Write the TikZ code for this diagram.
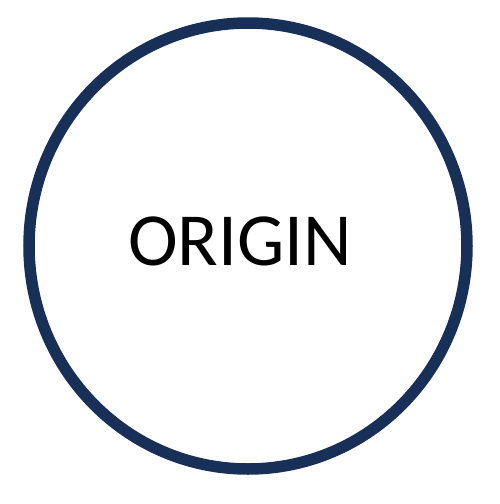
\documentclass[tikz,border=0pt]{standalone}
\usepackage{fontspec}
\setmainfont{Carlito}
\definecolor{ringblue}{HTML}{183058}
\begin{document}
\begin{tikzpicture}[x=1pt,y=-1pt,
  label/.style={font=\fontsize{75}{82}\selectfont,text=black,inner sep=0pt,anchor=center}]
\useasboundingbox (0,0) rectangle (499,504);
\draw[draw=ringblue,line width=11.5pt,fill=white] (248,246) ellipse [x radius=219, y radius=223];
\node[label] (origin) at (240,241.5) {ORIGIN};
\end{tikzpicture}
\end{document}
